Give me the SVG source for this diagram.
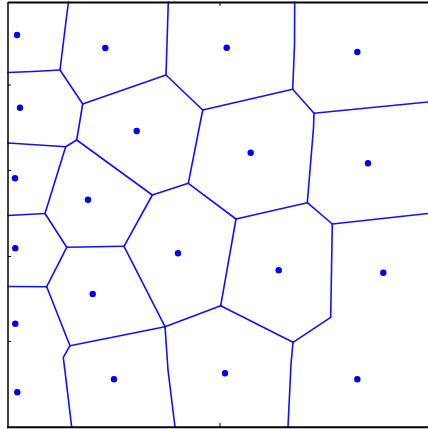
<svg xmlns="http://www.w3.org/2000/svg" width="428" height="429" viewBox="0 0 428 429">
<style>
.e{stroke:#1010ff;stroke-width:1.6;fill:none;stroke-linejoin:round;stroke-linecap:round}
.s{fill:#0000ee}
.ax{stroke:#000;fill:none}
</style>
<rect x="0" y="0" width="428" height="429" fill="#fff"/>
<g id="connectors">
<polyline class="e" points="68.5,2 66.5,17 60,70"/>
<polyline class="e" points="8,72.5 33,71.5 60,70"/>
<line class="e" x1="60" y1="70" x2="82.7" y2="104"/>
<line class="e" x1="168.3" y1="2" x2="166" y2="75"/>
<line class="e" x1="82.7" y1="104" x2="166" y2="75"/>
<line class="e" x1="166" y1="75" x2="202.7" y2="110"/>
<line class="e" x1="202.7" y1="110" x2="292.7" y2="89.3"/>
<polyline class="e" points="294.7,2 294.5,45 292.7,89.3"/>
<line class="e" x1="292.7" y1="89.3" x2="314" y2="113.3"/>
<line class="e" x1="314" y1="113.3" x2="428" y2="102"/>
<polyline class="e" points="314,113.3 313.5,128 307.3,202.7"/>
<line class="e" x1="202.7" y1="110" x2="188.3" y2="183.3"/>
<line class="e" x1="188.3" y1="183.3" x2="152.3" y2="195"/>
<line class="e" x1="188.3" y1="183.3" x2="236" y2="219"/>
<line class="e" x1="236" y1="219" x2="307.3" y2="202.7"/>
<line class="e" x1="307.3" y1="202.7" x2="332.3" y2="224"/>
<line class="e" x1="332.3" y1="224" x2="428" y2="213.5"/>
<polyline class="e" points="332.3,224 331.5,270 330.7,317.3"/>
<line class="e" x1="330.7" y1="317.3" x2="293" y2="342.3"/>
<polyline class="e" points="293,342.3 291,364 288,427"/>
<line class="e" x1="293" y1="342.3" x2="220.7" y2="305.7"/>
<line class="e" x1="220.7" y1="305.7" x2="236" y2="219"/>
<line class="e" x1="220.7" y1="305.7" x2="165" y2="326.7"/>
<polyline class="e" points="165,326.7 168,370 175,427"/>
<line class="e" x1="165" y1="326.7" x2="70" y2="345.7"/>
<polyline class="e" points="70,345.7 63.3,357.3 71.7,427"/>
<line class="e" x1="165" y1="326.7" x2="124" y2="246.3"/>
<line class="e" x1="124" y1="246.3" x2="66.7" y2="247.3"/>
<line class="e" x1="124" y1="246.3" x2="152.3" y2="195"/>
<line class="e" x1="66.7" y1="247.3" x2="45" y2="213.5"/>
<line class="e" x1="45" y1="213.5" x2="8" y2="215.5"/>
<line class="e" x1="45" y1="213.5" x2="65.7" y2="146.7"/>
<line class="e" x1="65.7" y1="146.7" x2="8" y2="143"/>
<line class="e" x1="65.7" y1="146.7" x2="76.7" y2="140"/>
<line class="e" x1="76.7" y1="140" x2="82.7" y2="104"/>
<line class="e" x1="76.7" y1="140" x2="152.3" y2="195"/>
<line class="e" x1="66.7" y1="247.3" x2="46.7" y2="286.7"/>
<line class="e" x1="46.7" y1="286.7" x2="8" y2="286.5"/>
<line class="e" x1="46.7" y1="286.7" x2="70" y2="345.7"/>
</g>
<g id="axes">
<line class="ax" x1="8" y1="2.5" x2="428" y2="2.5" stroke-width="2"/>
<line class="ax" x1="8" y1="2" x2="8" y2="428" stroke-width="1.5"/>
<line class="ax" x1="7" y1="427.3" x2="428" y2="427.3" stroke-width="2"/>
<g stroke="#000" stroke-width="1">
<line x1="8" y1="85" x2="11" y2="85"/>
<line x1="8" y1="170.5" x2="11" y2="170.5"/>
<line x1="8" y1="256.5" x2="11" y2="256.5"/>
<line x1="8" y1="341.5" x2="11" y2="341.5"/>
<line x1="220" y1="427" x2="220" y2="423"/>
<line x1="220" y1="3" x2="220" y2="6"/>
</g>
</g>
<g id="site1"><circle class="s" cx="17" cy="35" r="3.2"/></g>
<g id="site2"><circle class="s" cx="105.3" cy="48" r="3.2"/></g>
<g id="site3"><circle class="s" cx="226.7" cy="47.7" r="3.2"/></g>
<g id="site4"><circle class="s" cx="357.3" cy="52" r="3.2"/></g>
<g id="site5"><circle class="s" cx="20" cy="107.7" r="3.2"/></g>
<g id="site6"><circle class="s" cx="136.7" cy="131" r="3.2"/></g>
<g id="site7"><circle class="s" cx="250.7" cy="152.7" r="3.2"/></g>
<g id="site8"><circle class="s" cx="368" cy="163.3" r="3.2"/></g>
<g id="site9"><circle class="s" cx="15" cy="178.3" r="3.2"/></g>
<g id="site10"><circle class="s" cx="88" cy="199.7" r="3.2"/></g>
<g id="site11"><circle class="s" cx="178" cy="253.3" r="3.2"/></g>
<g id="site12"><circle class="s" cx="278.7" cy="270.3" r="3.2"/></g>
<g id="site13"><circle class="s" cx="383.3" cy="272.7" r="3.2"/></g>
<g id="site14"><circle class="s" cx="15.3" cy="248.3" r="3.2"/></g>
<g id="site15"><circle class="s" cx="92.7" cy="294" r="3.2"/></g>
<g id="site16"><circle class="s" cx="15.3" cy="323.7" r="3.2"/></g>
<g id="site17"><circle class="s" cx="114" cy="379.3" r="3.2"/></g>
<g id="site18"><circle class="s" cx="225" cy="373.3" r="3.2"/></g>
<g id="site19"><circle class="s" cx="357.3" cy="379.3" r="3.2"/></g>
<g id="site20"><circle class="s" cx="17.3" cy="392.3" r="3.2"/></g>
</svg>
